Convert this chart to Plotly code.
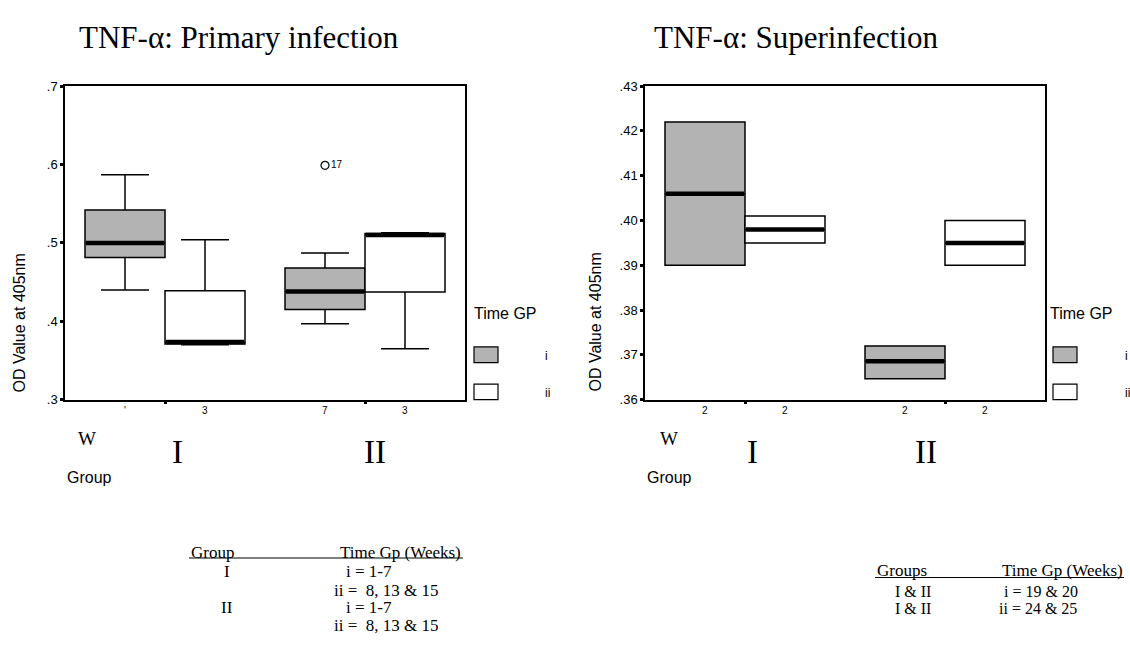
import plotly.graph_objects as go

W, H = 1130, 650

# ---------------- data ----------------
groups = ["I", "II"]
time_groups = ["i", "ii"]

# TNF-alpha: Primary infection  (order: I-i, I-ii, II-i, II-ii)
prim_lower = [0.440, 0.370, 0.397, 0.365]
prim_q1 = [0.4815, 0.371, 0.415, 0.4375]
prim_median = [0.500, 0.3735, 0.438, 0.510]
prim_q3 = [0.542, 0.439, 0.468, 0.512]
prim_upper = [0.587, 0.504, 0.487, 0.513]
prim_n_labels = ["'", "3", "7", "3"]
prim_outlier_value = [0.599]
prim_outlier_label = ["17"]
prim_outlier_box = [2]  # index of box (II - i)

# TNF-alpha: Superinfection
sup_q1 = [0.390, 0.395, 0.3647, 0.390]
sup_median = [0.406, 0.398, 0.3686, 0.395]
sup_q3 = [0.422, 0.401, 0.372, 0.400]
sup_n_labels = ["2", "2", "2", "2"]

prim_yticks = [0.3, 0.4, 0.5, 0.6, 0.7]
prim_yticktext = [".3", ".4", ".5", ".6", ".7"]
sup_yticks = [0.36, 0.37, 0.38, 0.39, 0.40, 0.41, 0.42, 0.43]
sup_yticktext = [".36", ".37", ".38", ".39", ".40", ".41", ".42", ".43"]

left_table = [("I", "i = 1-7"), ("", "ii =  8, 13 & 15"), ("II", "i = 1-7"), ("", "ii =  8, 13 & 15")]
right_table = [("I & II", "i = 19 & 20"), ("I & II", "ii = 24 & 25")]

# ---------------- styling ----------------
FILL = {"i": "#b3b3b3", "ii": "#ffffff"}
SERIF = "Liberation Serif, Times New Roman, serif"
SANS = "Liberation Sans, Arial, sans-serif"
BOXW = 0.4
OFFS = {"i": -0.2, "ii": 0.2}
TBL = 17


def px(x):
    return x / W


def py(y):
    return 1 - y / H


positions = []
box_tg = []
for gi, g in enumerate(groups):
    for tg in time_groups:
        positions.append(gi + 1 + OFFS[tg])
        box_tg.append(tg)

fig = go.Figure()


def add_boxes(xa, ya, q1, med, q3, lo, hi):
    for k in range(len(q1)):
        fig.add_trace(go.Box(
            x=[positions[k]], q1=[q1[k]], median=[med[k]], q3=[q3[k]],
            lowerfence=[lo[k]], upperfence=[hi[k]],
            width=BOXW, whiskerwidth=0.6,
            fillcolor=FILL[box_tg[k]],
            line=dict(color="black", width=1.5),
            xaxis=xa, yaxis=ya, showlegend=False, hoverinfo="skip",
        ))
        fig.add_trace(go.Scatter(
            x=[positions[k] - BOXW / 2 + 0.005, positions[k] + BOXW / 2 - 0.005],
            y=[med[k], med[k]], mode="lines",
            line=dict(color="black", width=4.5),
            xaxis=xa, yaxis=ya, showlegend=False, hoverinfo="skip",
        ))


add_boxes("x", "y", prim_q1, prim_median, prim_q3, prim_lower, prim_upper)
add_boxes("x2", "y2", sup_q1, sup_median, sup_q3, sup_q1, sup_q3)

# outlier
fig.add_trace(go.Scatter(
    x=[positions[i] for i in prim_outlier_box], y=prim_outlier_value,
    mode="markers+text", text=prim_outlier_label, textposition="middle right",
    textfont=dict(family=SANS, size=10, color="black"),
    marker=dict(symbol="circle-open", size=8, color="black", line=dict(width=1.2)),
    xaxis="x", yaxis="y", showlegend=False, hoverinfo="skip",
))

dom1 = [px(65), px(465)]
dom2 = [px(645), px(1045)]
ydom = [py(402), py(81)]

axis_common = dict(showline=True, linecolor="black", linewidth=1.5, mirror=True,
                   ticks="outside", ticklen=3, tickwidth=3, tickcolor="black",
                   showgrid=False, zeroline=False)

fig.update_layout(
    width=W, height=H, margin=dict(l=0, r=0, t=0, b=0),
    paper_bgcolor="white", plot_bgcolor="white", boxmode="overlay",
    xaxis=dict(domain=dom1, range=[0.5, 2.5], tickvals=[1, 2], showticklabels=False, **axis_common),
    yaxis=dict(domain=ydom, range=[0.3, 0.7], tickvals=prim_yticks, ticktext=prim_yticktext,
               tickfont=dict(family=SANS, size=13, color="black"), anchor="x", **axis_common),
    xaxis2=dict(domain=dom2, range=[0.5, 2.5], tickvals=[1, 2], showticklabels=False, anchor="y2", **axis_common),
    yaxis2=dict(domain=ydom, range=[0.36, 0.43], tickvals=sup_yticks, ticktext=sup_yticktext,
                tickfont=dict(family=SANS, size=13, color="black"), anchor="x2", **axis_common),
)

ann = []
shapes = []


def text(x, y, s, font, size, xanchor="center", angle=0):
    ann.append(dict(x=px(x), y=py(y), xref="paper", yref="paper", text=s, showarrow=False,
                    xanchor=xanchor, yanchor="middle", textangle=angle,
                    font=dict(family=font, size=size, color="black")))


# titles
text(77, 31, "TNF-α: Primary infection", SERIF, 31, "left")
text(652, 31, "TNF-α: Superinfection", SERIF, 31, "left")

# y titles
text(20, 324, "OD Value at 405nm", SANS, 16, angle=-90)
text(596, 323, "OD Value at 405nm", SANS, 16, angle=-90)

# n labels under boxes
for xa, labels in (("x", prim_n_labels), ("x2", sup_n_labels)):
    for k, s in enumerate(labels):
        ann.append(dict(x=positions[k], y=py(413), xref=xa, yref="paper", text=s, showarrow=False,
                        xanchor="center", yanchor="middle",
                        font=dict(family=SANS, size=10, color="black")))

# group labels
for (wx, ix, iix, gx) in ((87, 177, 375, 65), (669, 752, 926, 645)):
    text(wx, 442, "W", SERIF, 19)
    text(ix, 455, groups[0], SERIF, 33)
    text(iix, 455, groups[1], SERIF, 33)
    text(gx, 482, "Group", SANS, 16, "left")

# legends
for (lx, sx, labx) in ((472, 474, 543), (1048, 1053, 1123)):
    text(lx, 314, "Time GP", SANS, 16, "left")
    for j, (tg, y0, y1, ty) in enumerate((("i", 348, 364, 357), ("ii", 386, 402, 395))):
        shapes.append(dict(type="rect", xref="paper", yref="paper", x0=px(sx), x1=px(sx + 24),
                           y0=py(y1), y1=py(y0), fillcolor=FILL[tg], line=dict(color="black", width=1.2)))
        text(labx, ty, tg, SANS, 12, "left")

# left table
text(189, 558, "Group", SERIF, TBL, "left")
text(463, 558, "Time Gp (Weeks)", SERIF, TBL, "right")
shapes.append(dict(type="line", xref="paper", yref="paper", x0=px(189), x1=px(463), y0=py(564), y1=py(564),
                   line=dict(color="black", width=1.2)))
row_y = [578, 597, 615, 633]
for (g, t), yy in zip(left_table, row_y):
    if g:
        text(227, yy, g, SERIF, TBL)
    text(344 if t.startswith("i =") else 332, yy, t, SERIF, TBL, "left")

# right table
text(875, 577, "Groups", SERIF, TBL, "left")
text(1125, 577, "Time Gp (Weeks)", SERIF, TBL, "right")
shapes.append(dict(type="line", xref="paper", yref="paper", x0=px(875), x1=px(1124), y0=py(584), y1=py(584),
                   line=dict(color="black", width=1.2)))
for (g, t), yy in zip(right_table, [598, 616]):
    text(913, yy, g, SERIF, 16)
    text(1002 if t.startswith("i =") else 997, yy, t, SERIF, 16, "left")

fig.update_layout(annotations=ann, shapes=shapes)
fig.write_html("out.html", config={"displayModeBar": False},
               post_script="document.body.style.margin='0px';document.body.style.overflow='hidden';")
